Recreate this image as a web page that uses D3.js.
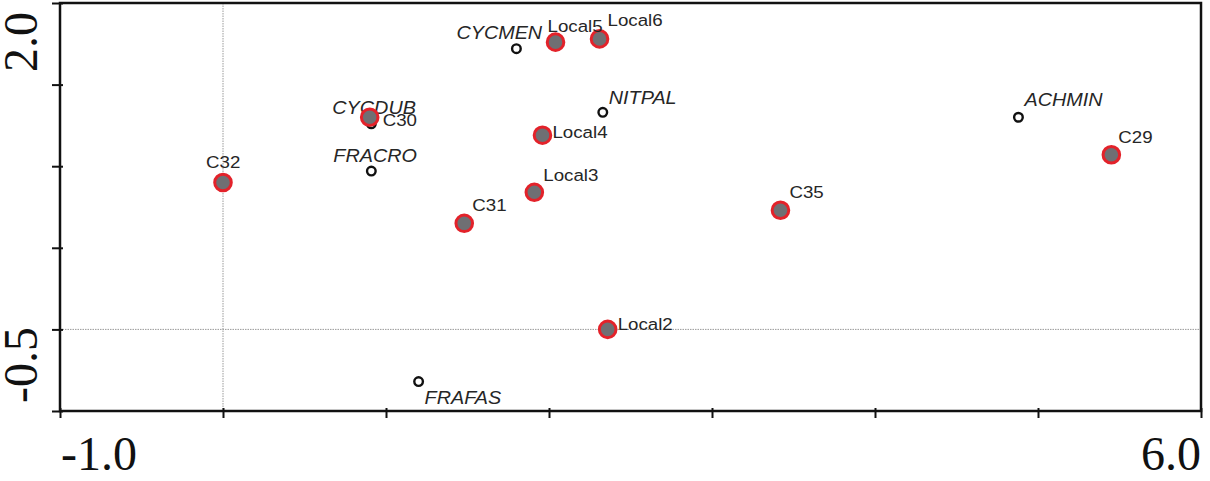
<!DOCTYPE html>
<html>
<head>
<meta charset="utf-8">
<script src="https://cdn.jsdelivr.net/npm/d3@7"></script>
<style>
  html, body { margin: 0; padding: 0; background: #fff; }
  svg { display: block; }
  .lbl { font-family: "Liberation Sans", Arial, sans-serif; fill: #262626; }
  .end-num { font-family: "Liberation Serif", "Times New Roman", serif; font-size: 48px; fill: #111; }
</style>
</head>
<body>
<div id="chart"></div>
<script>
// sample scores (filled, red outline)
const siteNames = ["C32", "C30", "Local5", "Local6", "Local4", "Local3", "C31", "C35", "C29", "Local2"];
const siteX     = [0.00, 0.90, 2.04, 2.31, 1.96, 1.91, 1.48, 3.42, 5.45, 2.36];
const siteY     = [0.90, 1.30, 1.76, 1.78, 1.19, 0.84, 0.65, 0.73, 1.07, 0.00];

// species scores (open circles, italic labels)
const speciesNames = ["CYCMEN", "NITPAL", "CYCDUB", "FRACRO", "ACHMIN", "FRAFAS"];
const speciesX     = [1.80, 2.33, 0.91, 0.91, 4.88, 1.20];
const speciesY     = [1.72, 1.33, 1.26, 0.97, 1.30, -0.32];

const xDomain = [-1.0, 6.0];
const yDomain = [-0.5, 2.0];
const xTicks = [-1, 0, 1, 2, 3, 4, 5, 6];
const yTicks = [-0.5, 0, 0.5, 1.0, 1.5, 2.0];
const xEndLabels = ["-1.0", "6.0"];
const yEndLabels = ["-0.5", "2.0"];

// label placement relative to the marker (px)
const labelOffset = {
  C32: [-17, -15], C30: [13, 9], Local5: [-8, -10], Local6: [8, -13], Local4: [10, 3],
  Local3: [9, -11], C31: [8, -12], C35: [9, -12], C29: [7, -12], Local2: [10, 1],
  CYCMEN: [-60, -10], NITPAL: [6, -8], CYCDUB: [-39, -10], FRACRO: [-38, -9],
  ACHMIN: [6, -11], FRAFAS: [6, 22]
};

const W = 1210, H = 481;
const box = { left: 60, right: 1201, top: 3, bottom: 411 };

const x = d3.scaleLinear().domain(xDomain).range([box.left, box.right]);
const y = d3.scaleLinear().domain(yDomain).range([box.bottom, box.top]);

const svg = d3.select("#chart").append("svg")
  .attr("width", W).attr("height", H)
  .attr("viewBox", `0 0 ${W} ${H}`);

// zero lines
svg.append("line")
  .attr("x1", x(0)).attr("x2", x(0)).attr("y1", box.top).attr("y2", box.bottom)
  .attr("stroke", "#9a9a9a").attr("stroke-width", 1).attr("stroke-dasharray", "1.5,1");
svg.append("line")
  .attr("x1", box.left).attr("x2", box.right).attr("y1", y(0)).attr("y2", y(0))
  .attr("stroke", "#9a9a9a").attr("stroke-width", 1).attr("stroke-dasharray", "1.5,1");

// axes (ticks only, frame drawn separately)
const gx = svg.append("g").attr("transform", `translate(0,${box.bottom})`)
  .call(d3.axisBottom(x).tickValues(xTicks).tickSize(7).tickSizeOuter(0).tickFormat(""));
const gy = svg.append("g").attr("transform", `translate(${box.left},0)`)
  .call(d3.axisLeft(y).tickValues(yTicks).tickSize(8).tickSizeOuter(0).tickFormat(""));
[gx, gy].forEach(g => {
  g.select(".domain").remove();
  g.selectAll(".tick line").attr("stroke", "#111").attr("stroke-width", 2);
});
gx.selectAll(".tick line").attr("y1", -3);
gy.selectAll(".tick line").attr("x1", 3);

svg.append("rect")
  .attr("x", box.left).attr("y", box.top)
  .attr("width", box.right - box.left).attr("height", box.bottom - box.top)
  .attr("fill", "none").attr("stroke", "#111").attr("stroke-width", 2.5);

// end-of-axis numbers
svg.append("text").attr("class", "end-num")
  .attr("x", x(xDomain[0]) + 1).attr("y", 470).attr("text-anchor", "start").text(xEndLabels[0]);
svg.append("text").attr("class", "end-num")
  .attr("x", x(xDomain[1])).attr("y", 470).attr("text-anchor", "end").text(xEndLabels[1]);
svg.append("text").attr("class", "end-num")
  .attr("transform", `translate(37,${y(yDomain[0]) - 8}) rotate(-90)`)
  .attr("text-anchor", "start").text(yEndLabels[0]);
svg.append("text").attr("class", "end-num")
  .attr("transform", `translate(37,${y(yDomain[1]) + 9}) rotate(-90)`)
  .attr("text-anchor", "end").text(yEndLabels[1]);

const species = speciesNames.map((n, i) => ({ name: n, x: speciesX[i], y: speciesY[i] }));
const sites = siteNames.map((n, i) => ({ name: n, x: siteX[i], y: siteY[i] }));

function addLabels(data, size, italic) {
  svg.selectAll(null).data(data).join("text")
    .attr("class", "lbl")
    .attr("transform", d => {
      const o = labelOffset[d.name];
      return `translate(${x(d.x) + o[0]},${y(d.y) + o[1]}) scale(1.1,1)`;
    })
    .style("font-size", `${size}px`)
    .style("font-style", italic ? "italic" : "normal")
    .text(d => d.name);
}

svg.selectAll(".sp").data(species).join("circle")
  .attr("class", "sp")
  .attr("cx", d => x(d.x)).attr("cy", d => y(d.y))
  .attr("r", 4.3)
  .attr("fill", "#fff").attr("stroke", "#111").attr("stroke-width", 2.4);
addLabels(species, 18, true);

svg.selectAll(".site").data(sites).join("circle")
  .attr("class", "site")
  .attr("cx", d => x(d.x)).attr("cy", d => y(d.y))
  .attr("r", 8.3)
  .attr("fill", "#6f6f73").attr("stroke", "#e3222a").attr("stroke-width", 3);
addLabels(sites, 17, false);
</script>
</body>
</html>
